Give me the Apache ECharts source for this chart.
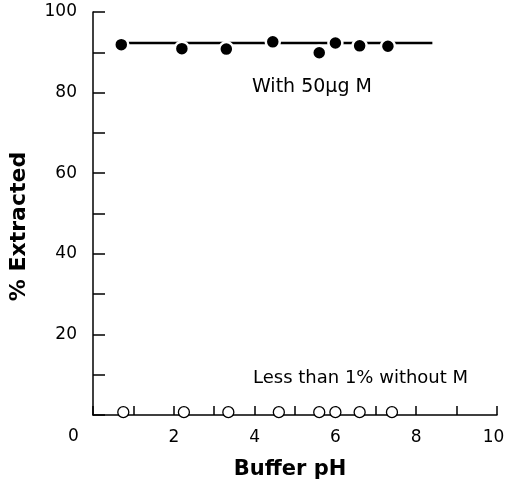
<!DOCTYPE html>
<html>
<head>
<meta charset="utf-8">
<script src="https://cdn.jsdelivr.net/npm/echarts@6/dist/echarts.min.js"></script>
<style>
  html, body { margin: 0; padding: 0; background: #fff; }
  #chart { width: 505px; height: 488px; }
</style>
</head>
<body>
<div id="chart"></div>
<script>
// pH values of the measured points
var phWith = [0.7, 2.2, 3.3, 4.45, 5.6, 6.0, 6.6, 7.3];
var extractedWith = [91.9, 90.9, 90.8, 92.6, 89.9, 92.3, 91.6, 91.5];
var phWithout = [0.75, 2.25, 3.35, 4.6, 5.6, 6.0, 6.6, 7.4];
var extractedWithout = [0.7, 0.7, 0.7, 0.7, 0.7, 0.7, 0.7, 0.7];
// mean line drawn through the 50 ug points
var meanLineX = [0.85, 8.4];
var meanLineY = [92.3, 92.3];

var fontName = 'DejaVu Sans';

function pairs(xs, ys) {
    var out = [];
    for (var i = 0; i < xs.length; i++) {
        out.push([xs[i], ys[i]]);
    }
    return out;
}

var myChart = echarts.init(document.getElementById('chart'));

var option = {
    animation: false,
    grid: {
        left: 93,
        right: 8,
        top: 12,
        bottom: 73,
        outerBoundsMode: 'none'
    },
    xAxis: {
        type: 'value',
        min: 0,
        max: 10,
        interval: 1,
        name: 'Buffer pH',
        nameLocation: 'middle',
        nameGap: 44,
        nameTextStyle: {
            color: '#000',
            fontFamily: fontName,
            fontSize: 21,
            fontWeight: 'bold',
            padding: [0, 10, 0, 0]
        },
        axisLine: { lineStyle: { color: '#000', width: 1.5 } },
        axisTick: { inside: true, length: 9, lineStyle: { color: '#000', width: 1.5 } },
        axisLabel: {
            color: '#000',
            fontFamily: fontName,
            fontSize: 17,
            margin: 14,
            formatter: function (v) {
                if (v === 10) return '{last|10}';
                return (v > 0 && v % 2 === 0) ? String(v) : '';
            },
            rich: {
                last: {
                    color: '#000',
                    fontFamily: fontName,
                    fontSize: 17,
                    padding: [0, 7, 0, 0]
                }
            }
        },
        splitLine: { show: false }
    },
    yAxis: {
        type: 'value',
        min: 0,
        max: 100,
        interval: 10,
        name: '% Extracted',
        nameLocation: 'middle',
        nameGap: 63,
        nameTextStyle: {
            color: '#000',
            fontFamily: fontName,
            fontSize: 22,
            fontWeight: 'bold',
            padding: [0, 26, 0, 0]
        },
        axisLine: { lineStyle: { color: '#000', width: 1.5 } },
        axisTick: { inside: true, length: 12, lineStyle: { color: '#000', width: 1.5 } },
        axisLabel: {
            color: '#000',
            fontFamily: fontName,
            fontSize: 17,
            margin: 16,
            formatter: function (v) {
                return (v > 0 && v % 20 === 0) ? String(v) : '';
            }
        },
        splitLine: { show: false }
    },
    graphic: [
        {
            type: 'text',
            left: 68,
            top: 428,
            style: { text: '0', fill: '#000', font: '17px "DejaVu Sans"' }
        },
        {
            type: 'text',
            left: 252,
            top: 78,
            style: { text: 'With 50\u03bcg M', fill: '#000', font: '19px "DejaVu Sans"' }
        },
        {
            type: 'text',
            left: 253,
            top: 369,
            style: { text: 'Less than 1% without M', fill: '#000', font: '18px "DejaVu Sans"' }
        }
    ],
    series: [
        {
            type: 'line',
            data: pairs(meanLineX, meanLineY),
            showSymbol: false,
            lineStyle: { color: '#000', width: 2.5 },
            z: 1
        },
        {
            type: 'scatter',
            data: pairs(phWith, extractedWith),
            symbol: 'circle',
            symbolSize: 14,
            itemStyle: { color: '#000', borderColor: '#fff', borderWidth: 2.5, opacity: 1 },
            z: 3
        },
        {
            type: 'scatter',
            data: pairs(phWithout, extractedWithout),
            symbol: 'circle',
            symbolSize: 11,
            itemStyle: { color: '#fff', borderColor: '#000', borderWidth: 1.3, opacity: 1 },
            z: 3
        }
    ]
};

myChart.setOption(option);
</script>
</body>
</html>
